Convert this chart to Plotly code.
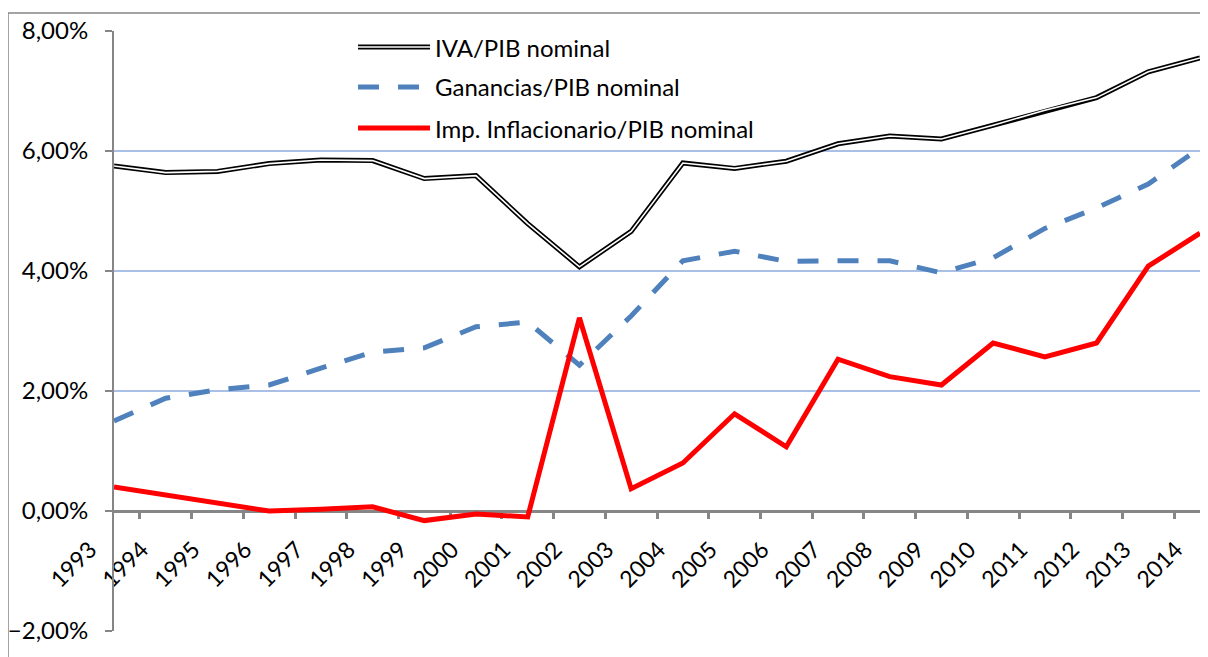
import plotly.graph_objects as go

# --------------------------------------------------------------------------- #
# Data (percent of nominal GDP)
# --------------------------------------------------------------------------- #
YEARS = [str(y) for y in range(1993, 2015)]

IVA_PIB = [5.75, 5.64, 5.66, 5.79, 5.85, 5.84, 5.54, 5.59, 4.79, 4.07, 4.66,
           5.80, 5.71, 5.83, 6.12, 6.25, 6.20, 6.43, 6.68, 6.89, 7.32, 7.55]
GANANCIAS_PIB = [1.50, 1.88, 2.02, 2.10, 2.38, 2.65, 2.72, 3.07, 3.15, 2.43, 3.25,
                 4.17, 4.33, 4.16, 4.17, 4.17, 3.97, 4.22, 4.71, 5.05, 5.45, 6.05]
INFLACIONARIO_PIB = [0.40, 0.27, 0.12, 0.00, 0.03, 0.07, -0.16, -0.05, -0.10, 3.22, 0.37,
                     0.80, 1.62, 1.07, 2.53, 2.24, 2.10, 2.80, 2.57, 2.80, 4.08, 4.63]

LEGEND_LABELS = ["IVA/PIB nominal", "Ganancias/PIB nominal", "Imp. Inflacionario/PIB nominal"]

# --------------------------------------------------------------------------- #
# Theme
# --------------------------------------------------------------------------- #
FONT = "Lato, 'Open Sans', sans-serif"
AXIS_GRAY = "#868686"
GRID_BLUE = "#A9BFE6"
BLUE = "#4F81BD"
RED = "#FF0000"


def pct(values):
    return [v / 100 for v in values]


fig = go.Figure()

# IVA: double line (black outline, white core)
fig.add_trace(go.Scatter(x=YEARS, y=pct(IVA_PIB), mode="lines", name=LEGEND_LABELS[0],
                         line=dict(color="black", width=5), showlegend=False))
fig.add_trace(go.Scatter(x=YEARS, y=pct(IVA_PIB), mode="lines", name=LEGEND_LABELS[0],
                         line=dict(color="white", width=1.6), showlegend=False,
                         hoverinfo="skip"))
fig.add_trace(go.Scatter(x=YEARS, y=pct(GANANCIAS_PIB), mode="lines", name=LEGEND_LABELS[1],
                         line=dict(color=BLUE, width=5, dash="21px,19px"), showlegend=False))
fig.add_trace(go.Scatter(x=YEARS, y=pct(INFLACIONARIO_PIB), mode="lines", name=LEGEND_LABELS[2],
                         line=dict(color=RED, width=5), showlegend=False))

# hand-drawn legend (samples + labels) to get the double-line symbol
leg_x0, leg_x1, leg_tx = 0.2247, 0.291, 0.294
leg_y = [0.9733, 0.9067, 0.8383]
samples = [
    [dict(color="black", width=5), dict(color="white", width=1.6)],
    [dict(color=BLUE, width=5, dash="21px,19px")],
    [dict(color=RED, width=5)],
]
for y, lines, label in zip(leg_y, samples, LEGEND_LABELS):
    for ln in lines:
        fig.add_shape(type="line", xref="paper", yref="paper",
                      x0=leg_x0, x1=leg_x1, y0=y, y1=y, line=ln)
    fig.add_annotation(x=leg_tx, y=y, xref="paper", yref="paper", text=label,
                       showarrow=False, xanchor="left", yanchor="middle",
                       font=dict(size=24, color="black", family=FONT))

# outer chart border (only top/left visible in the crop)
fig.add_shape(type="rect", xref="paper", yref="paper", x0=-0.0976, x1=1.05, y0=-0.2, y1=1.03,
              line=dict(color=AXIS_GRAY, width=1.5), layer="below")

# page body has an 8px margin, so the figure is 8px smaller than the window
fig.update_layout(
    width=1200, height=649,
    margin=dict(l=106, r=8, t=23, b=26, autoexpand=False),
    paper_bgcolor="white", plot_bgcolor="white",
    separators=",.",
    font=dict(family=FONT, color="black", size=24),
    showlegend=False,
)
fig.update_xaxes(
    type="category", anchor="free", position=0.2, automargin=False,
    showline=True, linecolor=AXIS_GRAY, linewidth=3, layer="below traces",
    ticks="outside", tickson="boundaries", ticklen=6, tickwidth=3, tickcolor=AXIS_GRAY,
    tickangle=-45, tickfont=dict(size=23), showgrid=False,
    ticklabelstandoff=14, ticklabelshift=-24,
)
fig.update_yaxes(
    range=[-0.02, 0.08], dtick=0.02, tickformat=".2%", automargin=False,
    showline=True, linecolor=AXIS_GRAY, linewidth=2,
    ticks="outside", ticklen=7, tickwidth=2, tickcolor=AXIS_GRAY,
    ticklabelstandoff=12,
    gridcolor=GRID_BLUE, gridwidth=1.5, zeroline=False,
    tickfont=dict(size=24),
)

fig.write_html("out.html")
